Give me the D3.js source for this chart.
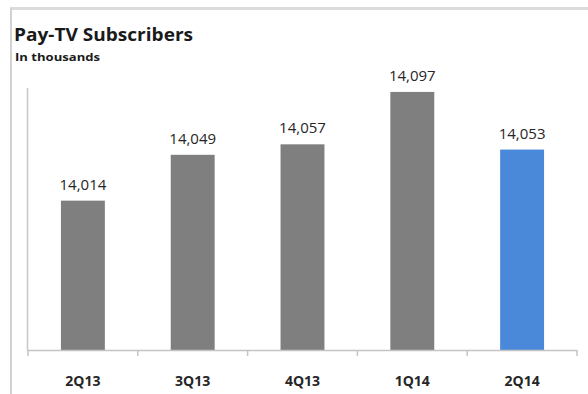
<!DOCTYPE html>
<html>
<head>
<meta charset="utf-8">
<script src="https://cdn.jsdelivr.net/npm/d3@7"></script>
<style>
  html, body { margin: 0; padding: 0; background: #fff; }
  svg { display: block; }
  text { font-family: "Open Sans", "Liberation Sans", sans-serif; }
</style>
</head>
<body>
<svg id="chart" width="588" height="394"></svg>
<script>
// Pay-TV subscribers by quarter (thousands)
const quarters = ["2Q13", "3Q13", "4Q13", "1Q14", "2Q14"];
const subscribers = [14014, 14049, 14057, 14097, 14053];
const barColors = ["#7f7f7f", "#7f7f7f", "#7f7f7f", "#7f7f7f", "#4a88d9"];
const yDomain = [13900, 14100];

const svg = d3.select("#chart");
const W = 588, H = 394;

// Frame: top and left rule
svg.append("line")
  .attr("x1", 10).attr("x2", W).attr("y1", 8.5).attr("y2", 8.5)
  .attr("stroke", "#dcdcdc").attr("stroke-width", 3);
svg.append("line")
  .attr("x1", 11).attr("x2", 11).attr("y1", 8).attr("y2", H)
  .attr("stroke", "#d2d2d2").attr("stroke-width", 2);

// Titles
svg.append("text")
  .attr("x", 14).attr("y", 41)
  .attr("font-size", 18).attr("font-weight", "bold")
  .attr("fill", "#1a1a1a")
  .attr("textLength", 179).attr("lengthAdjust", "spacingAndGlyphs")
  .text("Pay-TV Subscribers");
svg.append("text")
  .attr("x", 15).attr("y", 61)
  .attr("font-size", 11).attr("font-weight", "bold")
  .attr("fill", "#1a1a1a")
  .attr("textLength", 85).attr("lengthAdjust", "spacingAndGlyphs")
  .text("In thousands");

// Scales
const x = d3.scaleBand()
  .domain(quarters)
  .range([28, 577])
  .paddingInner(0.6)
  .paddingOuter(0.3);

const y = d3.scaleLinear()
  .domain(yDomain)
  .range([350, 88]);

// Y axis line (no ticks or labels)
svg.append("line")
  .attr("x1", 27.5).attr("x2", 27.5)
  .attr("y1", y(yDomain[1])).attr("y2", y(yDomain[0]))
  .attr("stroke", "#c8c8c8").attr("stroke-width", 1.5);

// Bars
const data = quarters.map((q, i) => ({ q, v: subscribers[i], c: barColors[i] }));

svg.append("g").selectAll("rect")
  .data(data)
  .join("rect")
  .attr("x", d => x(d.q))
  .attr("width", x.bandwidth())
  .attr("y", d => y(d.v))
  .attr("height", d => y(yDomain[0]) - y(d.v))
  .attr("fill", d => d.c);

// X axis with tick marks between categories
const step = x.step();
const bounds = quarters.map(q => x(q) - step * x.paddingInner() / 2);
bounds.push(577);
const axis = svg.append("g");
axis.append("line")
  .attr("x1", 27).attr("x2", 577)
  .attr("y1", 350.5).attr("y2", 350.5)
  .attr("stroke", "#c4c4c4").attr("stroke-width", 1.5);
axis.selectAll("line.tick")
  .data([28].concat(bounds.slice(1)))
  .join("line")
  .attr("class", "tick")
  .attr("x1", d => d).attr("x2", d => d)
  .attr("y1", 350).attr("y2", 356)
  .attr("stroke", "#c4c4c4").attr("stroke-width", 1.5);

// Category labels
svg.append("g").selectAll("text")
  .data(quarters)
  .join("text")
  .attr("x", d => x(d) + x.bandwidth() / 2)
  .attr("y", 386)
  .attr("text-anchor", "middle")
  .attr("font-size", 14).attr("font-weight", "bold")
  .attr("fill", "#262626")
  .text(d => d);

// Value labels
const fmt = d3.format(",");
svg.append("g").selectAll("text")
  .data(data)
  .join("text")
  .attr("x", d => x(d.q) + x.bandwidth() / 2)
  .attr("y", d => y(d.v) - 11)
  .attr("text-anchor", "middle")
  .attr("font-size", 15)
  .attr("fill", "#262626")
  .text(d => fmt(d.v));
</script>
</body>
</html>
